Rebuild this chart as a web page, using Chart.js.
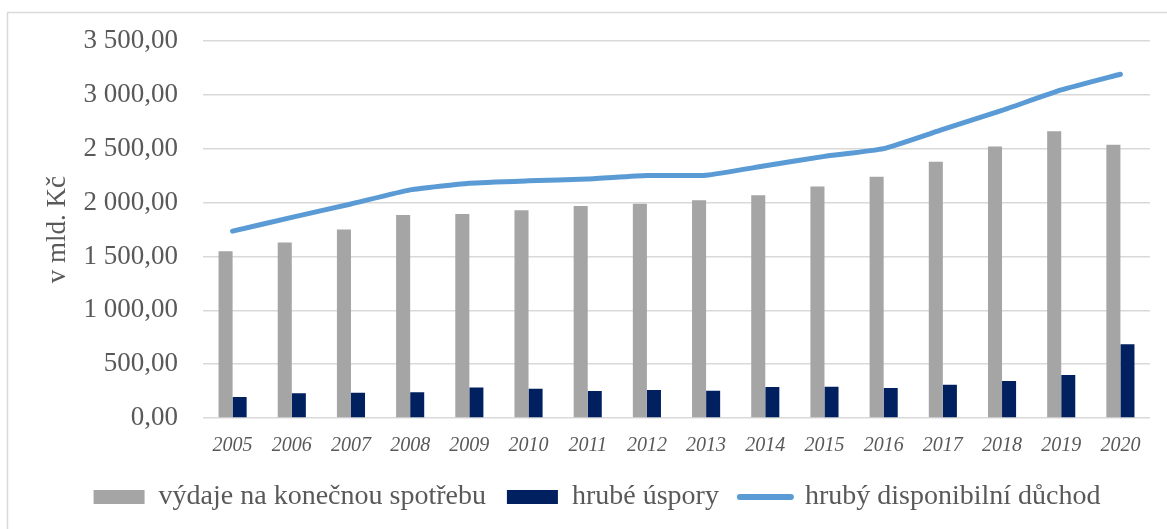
<!DOCTYPE html>
<html>
<head>
<meta charset="utf-8">
<script src="https://cdn.jsdelivr.net/npm/chart.js@4/dist/chart.umd.min.js"></script>
<style>
  html, body { margin: 0; padding: 0; background: #ffffff; }
  #wrap { position: relative; width: 1167px; height: 529px; }
</style>
</head>
<body>
<div id="wrap"><canvas id="c" width="1167" height="529"></canvas></div>
<script>
const years = ["2005","2006","2007","2008","2009","2010","2011","2012","2013","2014","2015","2016","2017","2018","2019","2020"];
const spotreba = [1549, 1630, 1751, 1885, 1894, 1929, 1969, 1991, 2022, 2069, 2150, 2240, 2380, 2523, 2664, 2539];
const uspory = [196, 231, 234, 240, 284, 271, 250, 259, 252, 287, 290, 278, 308, 343, 399, 686];
const duchod = [1736, 1864, 1988, 2119, 2181, 2203, 2219, 2252, 2255, 2343, 2430, 2502, 2680, 2857, 3047, 3193];
const yTickLabels = ["0,00", "500,00", "1 000,00", "1 500,00", "2 000,00", "2 500,00", "3 000,00", "3 500,00"];
const seriesNames = ["výdaje na konečnou spotřebu", "hrubé úspory", "hrubý disponibilní důchod"];
const yTitle = "v mld. Kč";

const frame = {
  id: 'frame',
  beforeDraw(chart) {
    const ctx = chart.ctx;
    ctx.save();
    ctx.fillStyle = '#ffffff';
    ctx.fillRect(0, 0, chart.width, chart.height);
    ctx.strokeStyle = '#d9d9d9';
    ctx.lineWidth = 1.5;
    ctx.beginPath();
    ctx.moveTo(7.5, chart.height + 2);
    ctx.lineTo(7.5, 12.5);
    ctx.lineTo(chart.width + 2, 12.5);
    ctx.stroke();
    ctx.restore();
  }
};

new Chart(document.getElementById('c'), {
  type: 'bar',
  data: {
    labels: years,
    datasets: [
      { type: 'bar', label: seriesNames[0], data: spotreba, backgroundColor: '#a5a5a5', borderWidth: 0, categoryPercentage: 0.475, barPercentage: 1.0, pointStyle: 'rect' },
      { type: 'bar', label: seriesNames[1], data: uspory, backgroundColor: '#002060', borderWidth: 0, categoryPercentage: 0.475, barPercentage: 1.0, pointStyle: 'rect' },
      { type: 'line', label: seriesNames[2], data: duchod, borderColor: '#5b9bd5', backgroundColor: '#5b9bd5', borderWidth: 5, pointRadius: 0, pointHoverRadius: 0, tension: 0.15, borderCapStyle: 'round', borderJoinStyle: 'round', fill: false, pointStyle: 'line' }
    ]
  },
  options: {
    responsive: false,
    animation: false,
    devicePixelRatio: 1,
    layout: { padding: { top: 41, right: 17, bottom: 8, left: 44 } },
    plugins: {
      tooltip: { enabled: false },
      legend: {
        position: 'bottom',
        labels: {
          font: { family: 'Liberation Serif', size: 28 },
          color: '#595959',
          usePointStyle: true,
          pointStyleWidth: 51,
          boxHeight: 14,
          padding: 21,
          generateLabels(chart) {
            const items = Chart.defaults.plugins.legend.labels.generateLabels(chart);
            items.forEach((it, i) => {
              if (i === 2) { it.pointStyle = 'line'; it.lineWidth = 6; it.lineCap = 'round'; it.strokeStyle = '#5b9bd5'; }
              else { it.pointStyle = 'rect'; it.lineWidth = 0; }
            });
            return items;
          }
        }
      }
    },
    scales: {
      x: {
        grid: { display: false },
        border: { display: false },
        ticks: { font: { family: 'Liberation Serif', size: 20, style: 'italic' }, color: '#595959', padding: 8, maxRotation: 0, autoSkip: false },
        afterFit(scale) { scale.height = 44; }
      },
      y: {
        min: 0, max: 3500,
        ticks: {
          stepSize: 500,
          font: { family: 'Liberation Serif', size: 27 },
          color: '#595959',
          padding: 25,
          callback: (v, i) => yTickLabels[i]
        },
        grid: { color: '#d9d9d9', lineWidth: 1.5, drawTicks: false },
        border: { display: false },
        title: { display: true, text: yTitle, font: { family: 'Liberation Serif', size: 27 }, color: '#595959', padding: { top: -2, bottom: 0 } },
        afterFit(scale) { scale.width = 159; }
      }
    }
  },
  plugins: [frame]
});
</script>
</body>
</html>
